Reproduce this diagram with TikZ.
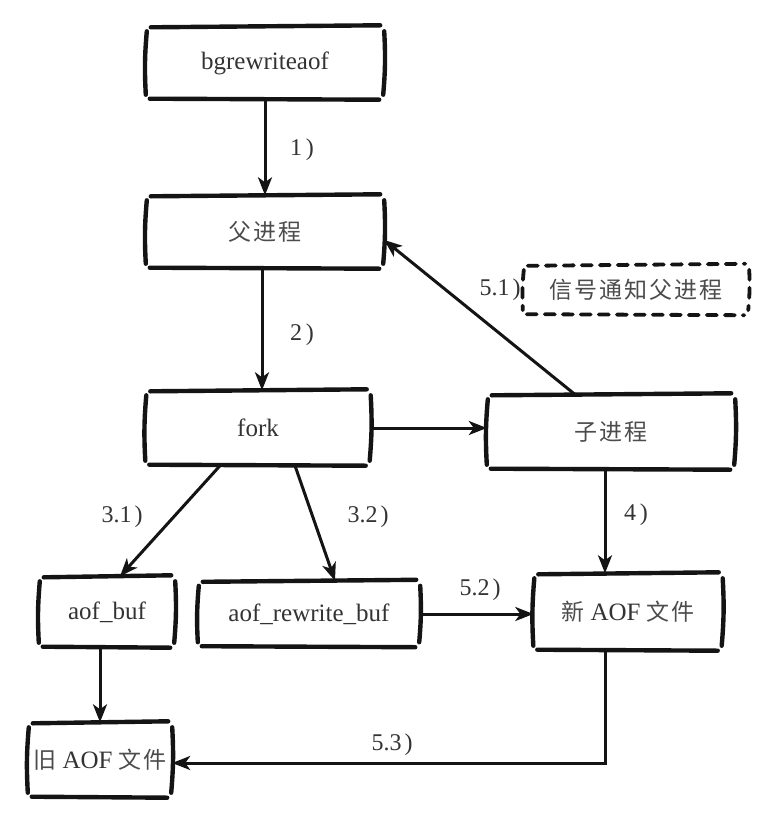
\documentclass[tikz,border=0pt]{standalone}
\usepackage{fontspec}
\setmainfont{Liberation Serif}
\newfontfamily\cjk[LetterSpace=8]{Noto Sans CJK SC}
\usetikzlibrary{arrows.meta,calc}
\tikzset{
  boxline/.style={line width=4.4pt,black!92,line cap=round},
  dboxline/.style={line width=3.8pt,black!92,line cap=round,dash pattern=on 10pt off 8pt},
  box/.style={draw=none,minimum width=#1,inner sep=0pt,text=black!80,font=\fontsize{25}{28}\selectfont},
  arr/.style={line width=3pt,black!92,-{Stealth[length=18pt,width=14pt,inset=5pt]}},
  lbl/.style={text=black!80,font=\fontsize{24}{26}\selectfont,inner sep=1pt},
}
\newcommand\sketchbox[2][boxline]{%
  \draw[#1] ([xshift=5pt,yshift=-1pt]#2.north west) -- ([xshift=-4pt,yshift=1pt]#2.north east);
  \draw[#1] ([xshift=4pt,yshift=1pt]#2.south west) -- ([xshift=-5pt]#2.south east);
  \draw[#1] ([yshift=-5pt,xshift=1pt]#2.north west) to[bend right=4] ([yshift=5pt]#2.south west);
  \draw[#1] ([yshift=-5pt]#2.north east) to[bend left=4] ([yshift=5pt,xshift=-1pt]#2.south east);
}
\newcommand\zh[1]{{\cjk\fontsize{23}{26}\selectfont\color{black!70}#1}}
\begin{document}
\begin{tikzpicture}[x=1pt,y=-1pt]
\useasboundingbox (0,0) rectangle (766,816);
\fill[white] (0,0) rectangle (766,816);

\node[box=238pt,minimum height=73pt] (bg) at (265,63) {bgrewriteaof};
\node[box=238pt,minimum height=73pt] (parent) at (265,232) {\zh{父进程}};
\node[box=225pt,minimum height=75pt] (fork) at (258,428) {fork};
\node[box=248pt,minimum height=75pt] (child) at (611,432) {\zh{子进程}};
\node[box=226pt,minimum height=50pt] (sig) at (636,290) {\zh{信号通知父进程}};
\node[box=189pt,minimum height=77pt] (newaof) at (628,612) {\zh{新} AOF \zh{文件}};
\node[box=136pt,minimum height=71pt] (aofbuf) at (107,612) {aof\_buf};
\node[box=222pt,minimum height=66pt] (rwbuf) at (309,614) {aof\_rewrite\_buf};
\node[box=144pt,minimum height=75pt] (oldaof) at (100,760) {\zh{旧} AOF \zh{文件}};

\sketchbox{bg}
\sketchbox{parent}
\sketchbox{fork}
\sketchbox{child}
\sketchbox[dboxline]{sig}
\sketchbox{newaof}
\sketchbox{aofbuf}
\sketchbox{rwbuf}
\sketchbox{oldaof}

\draw[arr] (bg.south) -- (parent.north);
\draw[arr] ([xshift=-3pt]parent.south) -- ([xshift=4pt]fork.north);
\draw[arr] (fork.east) -- (fork.east -| child.west);
\draw[arr] ([xshift=88pt]child.north west) -- ([yshift=-8pt]parent.east);
\draw[arr] ([xshift=-6pt]child.south) -- ([xshift=-23pt]newaof.north);
\draw[arr] ([xshift=-38pt]fork.south) -- ([xshift=13pt]aofbuf.north);
\draw[arr] ([xshift=37pt]fork.south) -- ([xshift=26pt]rwbuf.north);
\draw[arr] (rwbuf.east) -- (rwbuf.east -| newaof.west);
\draw[arr] ([xshift=-7pt]aofbuf.south) -- (oldaof.north);
\draw[arr] ([xshift=-23pt]newaof.south) |- ([yshift=-3pt]oldaof.east);

\node[lbl] (l1) at (302,150) {1\hspace{4pt})};
\node[lbl] (l2) at (302,335) {2\hspace{4pt})};
\node[lbl] (l51) at (500,290) {5.1\hspace{3pt})};
\node[lbl] (l4) at (636,515) {4\hspace{4pt})};
\node[lbl] (l31) at (122,517) {3.1\hspace{3pt})};
\node[lbl] (l32) at (368,517) {3.2\hspace{3pt})};
\node[lbl] (l52) at (480,590) {5.2\hspace{3pt})};
\node[lbl] (l53) at (392,745) {5.3\hspace{3pt})};
\end{tikzpicture}
\end{document}
